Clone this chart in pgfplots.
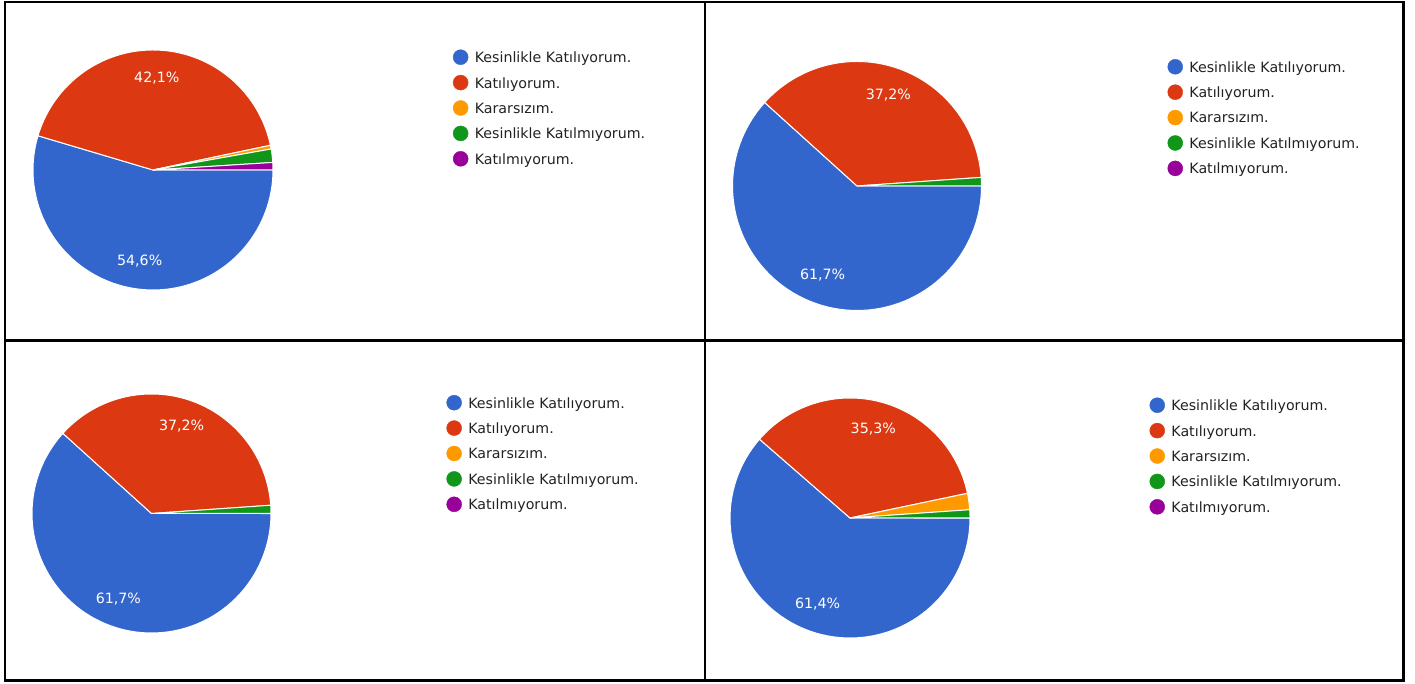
\documentclass[border=0pt]{standalone}
\usepackage{fontspec}
\setmainfont{DejaVu Sans}
\usepackage{pgfplots}
\pgfplotsset{compat=1.18}

\definecolor{kblue}{HTML}{3366CC}
\definecolor{kred}{HTML}{DC3912}
\definecolor{korange}{HTML}{FF9900}
\definecolor{kgreen}{HTML}{109618}
\definecolor{kpurple}{HTML}{990099}
\definecolor{ktext}{HTML}{222222}

\newcommand{\txtfont}{\fontsize{14.2}{17}\selectfont}

% one slice: centre x, centre y, radius, colour, percent
% slices start at 3 o'clock and run clockwise
\newcommand{\pieslice}[5]{%
  \pgfmathsetmacro{\pa}{-3.6*(\piecum+#5)}%
  \pgfmathsetmacro{\pb}{-3.6*\piecum}%
  \edef\tmp{\noexpand\addplot[draw=white, line width=1pt, fill=#4,
    domain=\pa:\pb, samples=80, forget plot]
    ({#1+#3*cos(x)},{#2+#3*sin(x)}) -- (axis cs:#1,#2) -- cycle;}%
  \tmp
  \pgfmathparse{#5>5 ? 1 : 0}%
  \ifnum\pgfmathresult>0
    \pgfmathsetmacro{\pmid}{(\pa+\pb)/2}%
    \pgfmathsetmacro{\lx}{#1+0.77*#3*cos(\pmid)}%
    \pgfmathsetmacro{\ly}{#2+0.77*#3*sin(\pmid)}%
    \edef\tmp{\noexpand\node[text=white, font=\noexpand\txtfont, inner sep=0pt]
      at (axis cs:\lx,\ly) {\noexpand\pgfmathprintnumber[use comma, fixed,
      fixed zerofill, precision=1, assume math mode=true]{#5}\noexpand\%};}%
    \tmp
  \fi
  \pgfmathsetmacro{\newcum}{\piecum+#5}%
  \xdef\piecum{\newcum}%
}

\pgfplotsset{
  pieaxis/.style={
    x=1pt, y=1pt, xmin=0, xmax=1415, ymin=0, ymax=684,
    hide axis, scale only axis, clip=false,
    anchor=south west, at={(0pt,0pt)},
    legend cell align=left,
    legend style={draw=none, fill=none, inner sep=0pt, outer sep=0pt,
      anchor=north west, row sep=10pt, column sep=6.5pt, font=\txtfont,
      text=ktext, nodes={inner sep=0pt}},
    legend image code/.code={\fill[##1] (7.5pt,0.9pt) circle (7.5pt);},
  },
}

\newcommand{\legendrows}{%
  \addlegendimage{kblue}\addlegendentry{Kesinlikle Katılıyorum.}
  \addlegendimage{kred}\addlegendentry{Katılıyorum.}
  \addlegendimage{korange}\addlegendentry{Kararsızım.}
  \addlegendimage{kgreen}\addlegendentry{Kesinlikle Katılmıyorum.}
  \addlegendimage{kpurple}\addlegendentry{Katılmıyorum.}
}

\begin{document}
\begin{tikzpicture}
\useasboundingbox (0pt,0pt) rectangle (1415pt,684pt);

% top left
\begin{axis}[pieaxis, legend style={at={(0.3201,0.9276)}}]
\legendrows
\gdef\piecum{0}
\pieslice{153}{514}{120}{kblue}{54.6}
\pieslice{153}{514}{120}{kred}{42.1}
\pieslice{153}{514}{120}{korange}{0.5}
\pieslice{153}{514}{120}{kgreen}{1.8}
\pieslice{153}{514}{120}{kpurple}{1.0}
\end{axis}

% top right
\begin{axis}[pieaxis, legend style={at={(0.8251,0.9136)}}]
\legendrows
\gdef\piecum{0}
\pieslice{857}{498}{124.5}{kblue}{61.7}
\pieslice{857}{498}{124.5}{kred}{37.2}
\pieslice{857}{498}{124.5}{kgreen}{1.1}
\end{axis}

% bottom left
\begin{axis}[pieaxis, legend style={at={(0.3155,0.4225)}}]
\legendrows
\gdef\piecum{0}
\pieslice{151.5}{170.5}{119.5}{kblue}{61.7}
\pieslice{151.5}{170.5}{119.5}{kred}{37.2}
\pieslice{151.5}{170.5}{119.5}{kgreen}{1.1}
\end{axis}

% bottom right
\begin{axis}[pieaxis, legend style={at={(0.8124,0.4188)}}]
\legendrows
\gdef\piecum{0}
\pieslice{850}{166}{120}{kblue}{61.4}
\pieslice{850}{166}{120}{kred}{35.3}
\pieslice{850}{166}{120}{korange}{2.2}
\pieslice{850}{166}{120}{kgreen}{1.1}
\end{axis}

% table frame
\draw[line width=2.2pt] (5pt,682pt) rectangle (1403.5pt,3.5pt);
\draw[line width=2.2pt] (705pt,682pt) -- (705pt,3.5pt);
\draw[line width=2.2pt] (5pt,343.4pt) -- (1403.5pt,343.4pt);
\end{tikzpicture}
\end{document}
